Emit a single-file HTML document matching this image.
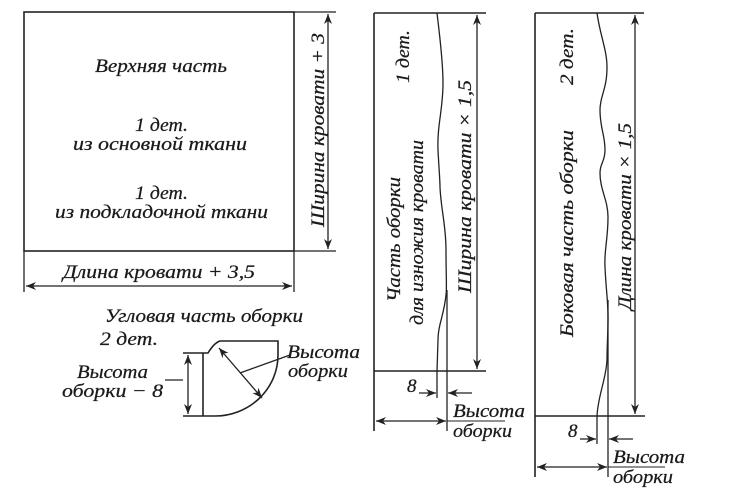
<!DOCTYPE html>
<html><head><meta charset="utf-8"><style>
html,body{margin:0;padding:0;background:#fff;}
svg{display:block;}
text{font-family:"Liberation Serif","DejaVu Serif",serif;font-style:italic;fill:#1a1a1a;font-size:19px;stroke:#1a1a1a;stroke-width:0.25;}
</style></head><body>
<svg width="740" height="492" viewBox="0 0 740 492" xmlns="http://www.w3.org/2000/svg">
<defs>
<marker id="a" viewBox="0 0 10 10" refX="10" refY="5" markerWidth="10" markerHeight="10" orient="auto-start-reverse" markerUnits="userSpaceOnUse"><path d="M0,1 L10,5 L0,9 L3,5 Z" fill="#222"/></marker>
</defs>
<g stroke="#222" fill="none" stroke-width="1.3">
<rect x="24" y="12" width="270" height="239" stroke-width="1.6"/>
<line x1="294" y1="12" x2="336" y2="12"/>
<line x1="294" y1="251" x2="336" y2="251"/>
<line x1="328" y1="14" x2="328" y2="249" marker-start="url(#a)" marker-end="url(#a)"/>
<line x1="24" y1="251" x2="24" y2="292"/>
<line x1="294" y1="251" x2="294" y2="292"/>
<line x1="26" y1="286" x2="292" y2="286" marker-start="url(#a)" marker-end="url(#a)"/>
<path d="M183,353 L208,353 Q214,343 220,341 L278,341 L278,355 A63,61 0 0 1 215,416 L183,416" stroke-width="1.6"/>
<line x1="203" y1="353" x2="203" y2="416" stroke-width="1.6"/>
<line x1="188" y1="355" x2="188" y2="414" marker-start="url(#a)" marker-end="url(#a)"/>
<line x1="165" y1="380" x2="183" y2="380"/>
<line x1="219" y1="348" x2="262" y2="398" marker-start="url(#a)" marker-end="url(#a)"/>
<line x1="240" y1="373" x2="290" y2="355"/>
<line x1="374" y1="13" x2="374" y2="431" stroke-width="1.6"/>
<line x1="374" y1="13" x2="486" y2="13" stroke-width="1.6"/>
<line x1="374" y1="371" x2="486" y2="371" stroke-width="1.6"/>
<path d="M437,13 C439,30 443,60 443,83 C443,110 437,125 438,150 C439,170 440,180 440,187 C441,210 446,225 446,250 C446,275 447,290 446,295 C444,315 438,325 438,340 L437,371 L437,398"/>
<line x1="447" y1="290" x2="447" y2="431"/>
<line x1="477" y1="15" x2="477" y2="369" marker-start="url(#a)" marker-end="url(#a)"/>
<line x1="419" y1="393" x2="436" y2="393" marker-end="url(#a)"/>
<line x1="472" y1="393" x2="448" y2="393" marker-end="url(#a)"/>
<line x1="376" y1="421" x2="446" y2="421" marker-start="url(#a)" marker-end="url(#a)"/>
<line x1="447" y1="421" x2="505" y2="421" stroke-width="1"/>
<line x1="535" y1="13" x2="535" y2="477" stroke-width="1.6"/>
<line x1="535" y1="13" x2="644" y2="13" stroke-width="1.6"/>
<line x1="535" y1="416" x2="645" y2="416" stroke-width="1.6"/>
<path d="M597,13 C600,35 607,50 607,67 C607,90 600,95 600,110 C600,128 605,135 605,150 C605,162 600,163 600,173 C600,190 608,200 608,217 C608,240 604,250 605,267 C606,290 608,300 608,317 C608,335 607,345 607,360 C606,380 598,395 597,416 L597,444"/>
<line x1="608" y1="300" x2="608" y2="477"/>
<line x1="635" y1="15" x2="635" y2="414" marker-start="url(#a)" marker-end="url(#a)"/>
<line x1="580" y1="439" x2="596" y2="439" marker-end="url(#a)"/>
<line x1="633" y1="439" x2="609" y2="439" marker-end="url(#a)"/>
<line x1="537" y1="467" x2="607" y2="467" marker-start="url(#a)" marker-end="url(#a)"/>
<line x1="608" y1="467" x2="665" y2="467" stroke-width="1"/>
</g>
<text x="95" y="72" textLength="132" lengthAdjust="spacingAndGlyphs">Верхняя часть</text>
<text x="135" y="131" textLength="53" lengthAdjust="spacingAndGlyphs">1 дет.</text>
<text x="73" y="150" textLength="174" lengthAdjust="spacingAndGlyphs">из основной ткани</text>
<text x="135" y="199" textLength="53" lengthAdjust="spacingAndGlyphs">1 дет.</text>
<text x="55" y="218" textLength="213" lengthAdjust="spacingAndGlyphs">из подкладочной ткани</text>
<text transform="translate(324,227) rotate(-90)" textLength="194" lengthAdjust="spacingAndGlyphs">Ширина кровати + 3</text>
<text x="63" y="278" textLength="192" lengthAdjust="spacingAndGlyphs">Длина кровати + 3,5</text>
<text x="105" y="322" textLength="198" lengthAdjust="spacingAndGlyphs">Угловая часть оборки</text>
<text x="100" y="345" textLength="58" lengthAdjust="spacingAndGlyphs">2 дет.</text>
<text x="77" y="378" textLength="71" lengthAdjust="spacingAndGlyphs">Высота</text>
<text x="62" y="397" textLength="101" lengthAdjust="spacingAndGlyphs">оборки − 8</text>
<text x="287" y="358" textLength="73" lengthAdjust="spacingAndGlyphs">Высота</text>
<text x="288" y="377" textLength="60" lengthAdjust="spacingAndGlyphs">оборки</text>
<text transform="translate(400,302) rotate(-90)" textLength="125" lengthAdjust="spacingAndGlyphs">Часть оборки</text>
<text transform="translate(423,325) rotate(-90)" textLength="185" lengthAdjust="spacingAndGlyphs">для изножия кровати</text>
<text transform="translate(409,83) rotate(-90)" textLength="53" lengthAdjust="spacingAndGlyphs">1 дет.</text>
<text transform="translate(471,293) rotate(-90)" textLength="213" lengthAdjust="spacingAndGlyphs">Ширина кровати × 1,5</text>
<text x="407" y="392">8</text>
<text x="453" y="417" textLength="72" lengthAdjust="spacingAndGlyphs">Высота</text>
<text x="453" y="437" textLength="59" lengthAdjust="spacingAndGlyphs">оборки</text>
<text transform="translate(573,337) rotate(-90)" textLength="207" lengthAdjust="spacingAndGlyphs">Боковая часть оборки</text>
<text transform="translate(573,85) rotate(-90)" textLength="57" lengthAdjust="spacingAndGlyphs">2 дет.</text>
<text transform="translate(631,310) rotate(-90)" textLength="187" lengthAdjust="spacingAndGlyphs">Длина кровати × 1,5</text>
<text x="568" y="437">8</text>
<text x="613" y="463" textLength="72" lengthAdjust="spacingAndGlyphs">Высота</text>
<text x="613" y="483" textLength="60" lengthAdjust="spacingAndGlyphs">оборки</text>
</svg>
</body></html>
